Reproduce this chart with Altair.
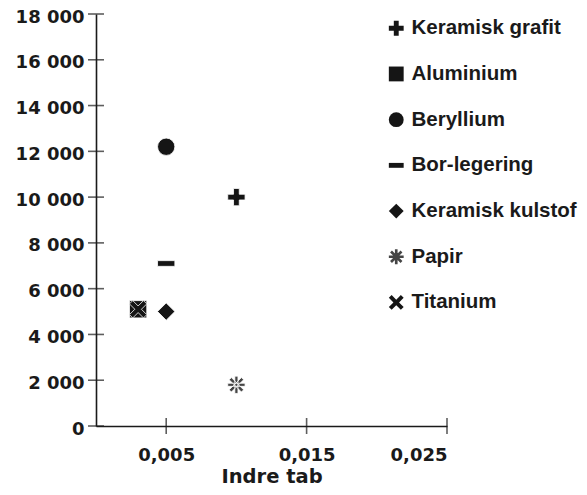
import altair as alt
import pandas as pd

# ---- data ----
materials = ["Keramisk grafit", "Aluminium", "Beryllium", "Bor-legering",
             "Keramisk kulstof", "Papir", "Titanium"]
indre_tab = [0.010, 0.003, 0.005, 0.005, 0.005, 0.010, 0.003]
values = [10000, 5100, 12200, 7100, 5000, 1800, 5100]
colors = ["#151515", "#151515", "#151515", "#151515", "#151515", "#454545", "#151515"]
y_ticks = [0, 2000, 4000, 6000, 8000, 10000, 12000, 14000, 16000, 18000]
x_ticks = [0.005, 0.015, 0.025]

# symbol shapes (unit box -1..1)
plus = "M-0.33,-1H0.33V-0.33H1V0.33H0.33V1H-0.33V0.33H-1V-0.33H-0.33Z"
dash = "M-1,-0.33H1V0.33H-1Z"
asterisk = ("M-0.18,-1H0.18V1H-0.18Z"
            "M-1,-0.18H1V0.18H-1Z"
            "M0.834,0.580L0.580,0.834L-0.834,-0.580L-0.580,-0.834Z"
            "M-0.834,0.580L0.580,-0.834L0.834,-0.580L-0.580,0.834Z")
xshape = ("M-0.62,-1L0,-0.38L0.62,-1L1,-0.62L0.38,0L1,0.62L0.62,1L0,0.38"
          "L-0.62,1L-1,0.62L-0.38,0L-1,-0.62Z")
shapes = [plus, "square", "circle", dash, "diamond", asterisk, xshape]

df = pd.DataFrame({"material": materials, "x": indre_tab, "y": values})
ytick_df = pd.DataFrame({"x": [0.0] * len(y_ticks), "y": y_ticks})
xtick_df = pd.DataFrame({"x": x_ticks, "y": [0] * len(x_ticks)})

x_enc = alt.X("x:Q",
              scale=alt.Scale(domain=[0, 0.025], nice=False, zero=False),
              axis=alt.Axis(values=x_ticks, title="Indre tab", grid=False,
                            ticks=False, tickSize=0, labelPadding=20,
                            titlePadding=3,
                            labelExpr="replace(format(datum.value, '.3f'), '.', ',')"))
y_enc = alt.Y("y:Q",
              scale=alt.Scale(domain=[0, 18000], nice=False),
              axis=alt.Axis(values=y_ticks, title=None, grid=False,
                            ticks=False, tickSize=0, labelPadding=12,
                            labelOffset=3,
                            labelExpr="replace(format(datum.value, ','), ',', ' ')"))

leg = alt.Legend(title=None, orient="none", legendX=290, legendY=4)

points = alt.Chart(df).mark_point(
    filled=True, size=300, opacity=1, stroke="white", strokeWidth=0.8
).encode(
    x=x_enc, y=y_enc,
    shape=alt.Shape("material:N", scale=alt.Scale(domain=materials, range=shapes),
                    legend=leg),
    color=alt.Color("material:N", scale=alt.Scale(domain=materials, range=colors),
                    legend=leg),
)

yticks = alt.Chart(ytick_df).mark_tick(
    orient="horizontal", size=16, thickness=1.6, color="#1a1a1a"
).encode(x=x_enc, y=y_enc)

xticks = alt.Chart(xtick_df).mark_tick(
    orient="vertical", size=16, thickness=1.6, color="#1a1a1a"
).encode(x=x_enc, y=y_enc)

chart = alt.layer(yticks, xticks, points).properties(
    width=351, height=412,
    padding={"left": 88, "top": 6, "right": 132, "bottom": 61},
    autosize=alt.AutoSizeParams(type="none"),
).configure_view(stroke=None).configure_axis(
    domainColor="#1a1a1a", domainWidth=1.6,
    labelFont="DejaVu Sans", labelFontWeight="bold", labelFontSize=18,
    labelColor="#1a1a1a",
    titleFont="DejaVu Sans", titleFontWeight="bold", titleFontSize=19.5,
    titleColor="#1a1a1a",
).configure_legend(
    labelFont="Liberation Sans", labelFontWeight="bold", labelFontSize=20.5,
    labelColor="#1a1a1a", symbolSize=220, symbolStrokeWidth=0,
    rowPadding=24.7, labelOffset=5, padding=0, labelLimit=300,
)

chart.save("out.html", embed_options={"renderer": "svg", "actions": False})
